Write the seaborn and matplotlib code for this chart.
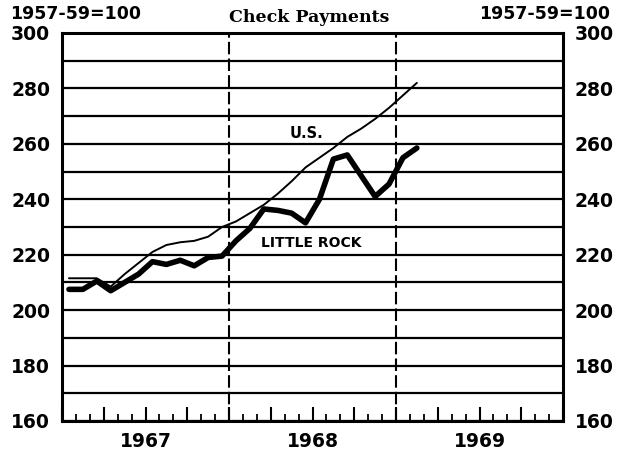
import numpy as np
import pandas as pd
import seaborn as sns
import matplotlib.pyplot as plt
from matplotlib.ticker import FixedLocator, MultipleLocator, FuncFormatter

# monthly values, Jan 1967 - Feb 1969 (1957-59=100)
n_months = 26
us = [211.5, 211.5, 211.5, 208.5, 213, 217, 221, 223.5, 224.5, 225, 226.5, 230,
      232, 235, 238, 242, 246.5, 251.5, 255, 258.5, 262.5, 265.5, 269, 273,
      277.5, 282]
little_rock = [207.5, 207.5, 210.5, 207, 210, 213, 217.5, 216.5, 218, 216, 219, 219.5,
               225, 229.5, 236.5, 236, 235, 231.5, 240, 254.5, 256, 248.5, 241, 245.5,
               255, 258.5]
year_labels = ['1967', '1968', '1969']
y_ticks = list(range(160, 301, 20))

df = pd.DataFrame({
    'date': 1967 + (np.arange(n_months) + 0.5) / 12,
    'U.S.': us,
    'LITTLE ROCK': little_rock,
})

sns.set_style('white')
plt.rcParams['font.family'] = ['DejaVu Sans']
plt.rcParams['text.color'] = 'black'
plt.rcParams['xtick.color'] = 'black'
plt.rcParams['ytick.color'] = 'black'

fig = plt.figure(figsize=(6.17, 4.58), dpi=100)
ax = fig.add_axes([62/617, 1 - 421/458, (563-62)/617, (421-33)/458])

sns.lineplot(data=df, x='date', y='U.S.', color='black', lw=1.4, ax=ax)
sns.lineplot(data=df, x='date', y='LITTLE ROCK', color='black', lw=4, ax=ax)

ax.set_xlim(1967, 1970)
ax.set_ylim(160, 300)

# horizontal rules every 10
ax.yaxis.set_major_locator(FixedLocator(y_ticks))
ax.yaxis.set_minor_locator(MultipleLocator(10))
ax.grid(axis='y', which='both', color='black', lw=1.6)
for yr in (1968, 1969):
    ax.axvline(yr, color='black', lw=1.5, ls=(0, (6, 2)))
ax.set_axisbelow(True)

# x ticks: quarters long, months short, year labels in the middle
ax.xaxis.set_major_locator(FixedLocator(np.arange(1967, 1970.01, 0.25)))
ax.xaxis.set_minor_locator(MultipleLocator(1/12))
ax.xaxis.set_major_formatter(FuncFormatter(
    lambda v, p: year_labels[int(v) - 1967] if abs(v - int(v) - 0.5) < 1e-6 else ''))
ax.tick_params(axis='x', which='major', direction='in', length=10, width=1.5,
               bottom=True, top=False, labelsize=13.5, pad=8, labelcolor='black')
ax.tick_params(axis='x', which='minor', direction='in', length=5, width=1.3,
               bottom=True, top=False)
ax.tick_params(axis='y', which='both', left=False, right=False,
               labelleft=True, labelright=True, labelsize=13.5, pad=5, labelcolor='black')
for t in ax.xaxis.get_major_ticks() + ax.yaxis.get_major_ticks():
    t.label1.set_fontweight('bold')
    t.label2.set_fontweight('bold')

for s in ax.spines.values():
    s.set_color('black')
    s.set_linewidth(2.2)

ax.set_xlabel('')
ax.set_ylabel('')

ax.text(1968.465, 263.8, 'U.S.', ha='center', va='center', fontsize=10.5, fontweight='bold')
ax.text(1968.495, 224.1, 'LITTLE ROCK', ha='center', va='center', fontsize=10, fontweight='bold')

fig.text(10/617, 1 - 14/458, '1957-59=100', ha='left', va='center', fontsize=12.5, fontweight='bold')
fig.text(610/617, 1 - 14/458, '1957-59=100', ha='right', va='center', fontsize=12.5, fontweight='bold')
fig.text(309/617, 1 - 18/458, 'Check Payments', ha='center', va='center', fontsize=12.5,
         fontweight='bold', family='DejaVu Serif')

fig.savefig('out.png', dpi=100)
